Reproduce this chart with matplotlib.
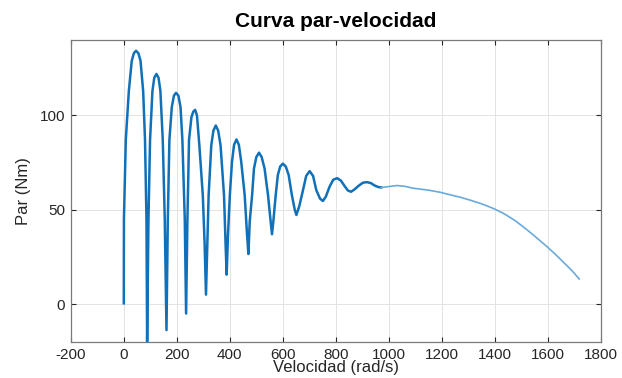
import matplotlib
matplotlib.use("Agg")
import matplotlib.pyplot as plt

plt.rcParams['font.family'] = ['Liberation Sans', 'DejaVu Sans']
plt.rcParams['axes.unicode_minus'] = False

# speed (rad/s) and torque (Nm)
velocidad = [
    0, 0.5, 7.5, 19, 30, 38, 46, 55, 63, 73, 80, 85.5, 88,
    93, 99, 108, 115, 123, 131, 138, 147, 154.5, 161,
    166, 172, 181, 189, 197, 206, 214, 221, 230, 235,
    240, 246, 255, 262, 269, 276, 285, 298, 305, 310,
    315, 320, 330, 338, 347, 356, 365, 378, 384, 388,
    393, 400, 408, 416, 425, 434, 443, 456, 465, 470,
    475, 484, 491, 500, 510, 520, 531, 544, 554, 559,
    564, 573, 581, 590, 600, 611, 622, 634, 645, 651,
    662, 676, 688, 701, 714, 726, 740, 751, 762, 776, 790, 805, 819, 833,
    845, 857, 870, 887, 902, 917, 932, 946, 960, 971, 986, 1002, 1030,
    1060, 1090, 1147, 1191, 1228, 1272, 1310, 1341, 1367, 1398, 1430,
    1454, 1480, 1517, 1550, 1599, 1630, 1656, 1690, 1718,
]
par = [
    0.5, 45, 87, 113, 129, 133, 134.3, 133, 129, 113, 87, 45, -20,
    45, 87, 113, 120, 122, 120, 113, 87, 45, -13.7,
    45, 87, 104.4, 110.5, 112, 110.5, 104.4, 87, 45, -4.9,
    45, 87, 99, 102, 103, 100, 84.2, 57.8, 31.5, 5.1,
    31.5, 57.8, 84.2, 92, 94.7, 92, 84.2, 57.8, 31.5, 15.7,
    36.7, 57.8, 75.4, 84.5, 87.3, 84.5, 75.4, 57.8, 36.7, 26.6,
    43.8, 57.8, 71.9, 78, 80.3, 78, 71.9, 57.8, 43.8, 37.1,
    43.8, 57.8, 68.4, 73, 74.5, 73, 68.4, 57.8, 50, 47.3,
    52, 60.5, 68, 70.5, 68, 60.5, 56, 54.7, 57, 62.2, 66, 66.8, 65.5, 62.6,
    60.3, 59.6, 60.8, 62.9, 64.4, 64.7, 64.2, 62.9, 62.1, 61.9, 62.1, 62.4, 62.9,
    62.5, 61.5, 60.5, 59.4, 58.1, 56.6, 55.0, 53.6, 52.3, 50.5, 48.3,
    46.3, 43.9, 39.9, 36.1, 30.2, 26.2, 22.6, 17.9, 13.4,
]

xticks = list(range(-200, 1801, 200))
yticks = [0, 50, 100]

fig = plt.figure(figsize=(6.22, 3.78), dpi=100)
ax = fig.add_axes([0.1138, 0.0952, 0.8524, 0.7990])

# dense oscillating part is drawn darker/thicker, the smooth tail lighter
split = velocidad.index(971)
ax.plot(velocidad[:split + 1], par[:split + 1], color='#1070b8', lw=1.8,
        solid_joinstyle='round')
ax.plot(velocidad[split:], par[split:], color='#6aaadb', lw=1.2)

ax.set_xlim(-200, 1800)
ax.set_ylim(-20, 140)
ax.set_xticks(xticks)
ax.set_yticks(yticks)
ax.grid(True, color='#e3e3e3', lw=0.7)
ax.set_axisbelow(True)
ax.tick_params(direction='in', length=3.5, width=0.8, top=True, right=True,
               labelsize=11, colors='#262626', pad=4)
for s in ax.spines.values():
    s.set_color('#7a7a7a')
    s.set_linewidth(0.9)

ax.set_xlabel('Velocidad (rad/s)', fontsize=12, color='#262626', labelpad=-1)
ax.set_ylabel('Par (Nm)', fontsize=12, color='#262626', labelpad=6)
ax.set_title('Curva par-velocidad', fontsize=15, fontweight='bold', pad=9)

fig.savefig('out.png', dpi=100)
